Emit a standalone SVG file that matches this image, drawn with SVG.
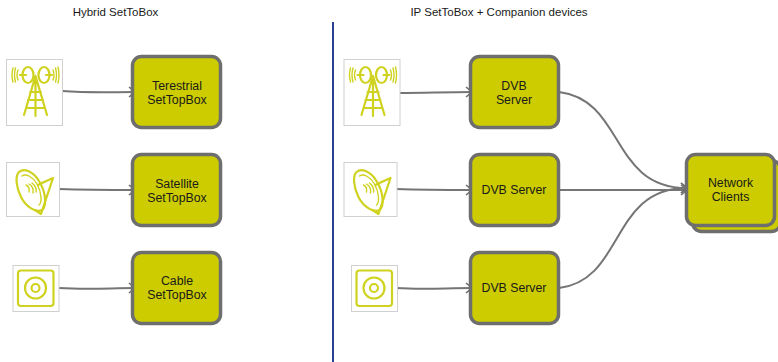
<svg xmlns="http://www.w3.org/2000/svg" width="778" height="362" viewBox="0 0 778 362">
<style>
text{font-family:"Liberation Sans",Arial,sans-serif;font-size:12.300px;fill:#1a1a1a;text-anchor:middle}
text.t{font-size:11.500px}
.box{fill:#cccc00;stroke:#6e6e6e;stroke-width:3.500}
.c{fill:none;stroke:#757575;stroke-width:2}
.ic{fill:#fff;stroke:#d0d0d0;stroke-width:1}
.g{fill:none;stroke:#cfd21e;stroke-width:2.200;stroke-linecap:round;stroke-linejoin:round}
.g1{fill:none;stroke:#cfd21e;stroke-width:1.400;stroke-linecap:round}
</style>
<defs>
<marker id="a" markerUnits="userSpaceOnUse" markerWidth="10" markerHeight="12" refX="8" refY="6" orient="auto"><path d="M2 1L8 6L2 11" fill="none" stroke="#6e6e6e" stroke-width="1.600"/></marker>
<g id="tower">
<rect class="ic" x="6.500" y="59.500" width="56" height="66"/>
<ellipse class="g" cx="28" cy="75" rx="5.500" ry="8"/><ellipse class="g" cx="44" cy="75" rx="5.500" ry="8"/>
<path class="g" d="M35.500 76L24 115M35.500 76L47 115M30 92H41M28 100H43M26 108H45M35.500 78V116"/>
<path class="g" d="M20 75H26M46 75H52"/>
<path class="g1" d="M18 70Q16 75 18 80M15.500 68Q13.500 75 15.500 82M13 68Q11 75 13 82M53 70Q55 75 53 80M55.500 68Q57.500 75 55.500 82M58 67Q60 75 58 83"/>
</g>
<g id="sat">
<rect class="ic" x="6.500" y="162.500" width="53" height="54"/>
<path class="g" d="M19 172C24 168 33 171 39 181C46 192 47 206 42 210C36 213 26 207 21 197C16 187 15 176 19 172Z"/>
<path class="g1" d="M22 176C26 173 33 177 37 184C42 193 42 203 39 205"/>
<path class="g" d="M42 183L53 178L41 214L35 210M38 185L44 182"/>
<path class="g1" d="M26 185Q30 187 29 192M29 184Q34 187 33 193M32 183Q37 187 36 192"/>
</g>
<g id="cab">
<rect class="ic" x="13" y="265.500" width="46" height="46"/>
<rect class="g" x="18" y="270.500" width="35.500" height="35.500" rx="3"/>
<circle class="g" cx="35.500" cy="288" r="10.500"/><circle class="g" cx="35.500" cy="288" r="4"/>
</g>
</defs>
<text class="t" x="115.500" y="16">Hybrid SetToBox</text>
<text class="t" x="499" y="16">IP SetToBox + Companion devices</text>
<path d="M333 22V362" stroke="#2a3f8f" stroke-width="2" fill="none"/>
<g id="connectors">
<path class="c" marker-end="url(#a)" d="M62 91C90 93 110 92 135 92"/>
<path class="c" marker-end="url(#a)" d="M59 189C90 190 110 190 135 190"/>
<path class="c" marker-end="url(#a)" d="M59 288C90 290 110 288 135 288"/>
<path class="c" marker-end="url(#a)" d="M399 93C425 93 445 92 472 92"/>
<path class="c" marker-end="url(#a)" d="M396 189C425 190 445 190 472 190"/>
<path class="c" marker-end="url(#a)" d="M396 288C425 290 445 288 472 288"/>
<path class="c" marker-end="url(#a)" d="M559 92C625 100 610 188 687 188"/>
<path class="c" marker-end="url(#a)" d="M559 190H687"/>
<path class="c" marker-end="url(#a)" d="M559 288C625 280 610 188 687 188"/>
</g>
<g id="icon-terrestrial-1"><use href="#tower"/></g>
<g id="icon-satellite-1"><use href="#sat"/></g>
<g id="icon-cable-1"><use href="#cab"/></g>
<g id="icon-terrestrial-2"><use href="#tower" x="337.500"/></g>
<g id="icon-satellite-2"><use href="#sat" x="337.500"/></g>
<g id="icon-cable-2"><use href="#cab" x="338.500"/></g>
<g id="terrestrial"><rect class="box" x="132.500" y="56.500" width="88" height="71" rx="9"/><text x="177" y="90">Terestrial</text><text x="177" y="104">SetTopBox</text></g>
<g id="satellite"><rect class="box" x="132.500" y="154.500" width="88" height="71" rx="9"/><text x="177" y="188">Satellite</text><text x="177" y="202">SetTopBox</text></g>
<g id="cable"><rect class="box" x="132.500" y="252.500" width="88" height="71" rx="9"/><text x="177" y="285">Cable</text><text x="177" y="299">SetTopBox</text></g>
<g id="dvb1"><rect class="box" x="470.500" y="56.500" width="88" height="71" rx="9"/><text x="514" y="90">DVB</text><text x="514" y="104">Server</text></g>
<g id="dvb2"><rect class="box" x="470.500" y="154.500" width="88" height="71" rx="9"/><text x="514" y="194">DVB Server</text></g>
<g id="dvb3"><rect class="box" x="470.500" y="252.500" width="88" height="71" rx="9"/><text x="514" y="292">DVB Server</text></g>
<g id="clients"><rect class="box" x="692.500" y="160.500" width="88" height="71" rx="9"/><rect class="box" x="686.500" y="154.500" width="88" height="71" rx="9"/><text x="730.500" y="187">Network</text><text x="730.500" y="201">Clients</text></g>
</svg>
